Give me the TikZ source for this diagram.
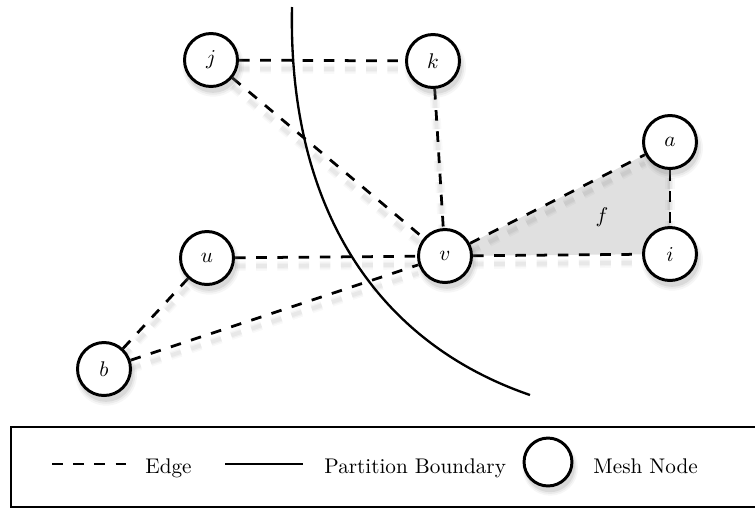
\documentclass[tikz,border=0pt]{standalone}
\usetikzlibrary{shadows,backgrounds,calc}
\definecolor{facefill}{RGB}{224,224,224}
\begin{document}
\begin{tikzpicture}[x=0.4717pt, y=-0.4717pt,
  softshadow/.style={
    drop shadow={shadow xshift=0.9pt, shadow yshift=-2.4pt, shadow scale=1.16, opacity=0.07},
    drop shadow={shadow xshift=0.9pt, shadow yshift=-2.4pt, shadow scale=1.10, opacity=0.10},
    drop shadow={shadow xshift=0.9pt, shadow yshift=-2.4pt, shadow scale=1.04, opacity=0.16}},
  meshnode/.style={circle, draw, line width=1.4pt, fill=white,
    minimum size=25pt, inner sep=0pt, softshadow},
  edge/.style={line width=1.3pt, dash pattern=on 5pt off 5pt},
  edgeshade/.style={draw=black, dash pattern=on 5pt off 5pt},
  boundary/.style={line width=1.1pt},
  legtext/.style={anchor=base west, inner sep=0pt}
]
\useasboundingbox (0,0) rectangle (755,509);

% mesh nodes
\node[meshnode] (j) at (211,60)  {$j$};
\node[meshnode] (k) at (433,61)  {$k$};
\node[meshnode] (a) at (670,142) {$a$};
\node[meshnode] (u) at (207,258) {$u$};
\node[meshnode] (v) at (445,256) {$v$};
\node[meshnode] (i) at (670,254) {$i$};
\node[meshnode] (b) at (104,369) {$b$};

\begin{scope}[on background layer]
  % shaded face v-a-i
  \fill[facefill] (v.center) -- (a.center) -- (i.center) -- cycle;
  % soft shadows under the edges
  \foreach \w/\o in {4.5/0.025, 3/0.03, 1.8/0.035} {
    \foreach \p/\q in {j/k, j/v, k/v, u/v, b/u, b/v, v/a, a/i, v/i} {
      \draw[edgeshade, line width=\w pt, draw opacity=\o]
        ($(\p)!13.2pt!(\q)+(0pt,-4pt)$) -- ($(\q)!13.2pt!(\p)+(0pt,-4pt)$);
    }
  }
  % edges
  \foreach \p/\q in {j/k, j/v, k/v, u/v, b/u, b/v, v/a, a/i, v/i} {
    \draw[edge] (\p) -- (\q);
  }
  % partition boundary
  \draw[boundary] (292,7) .. controls (288,200) and (370,340) .. (530,395);
\end{scope}

\node (flabel) at (602,217) {$f$};

% legend
\draw[line width=1.3pt] (11,427) rectangle (765,507);
\coordinate (le1) at (52,464);
\coordinate (le2) at (128,464);
\draw[edge] (le1) -- (le2);
\node[legtext] (legedge) at (145,473) {Edge};
\coordinate (lb1) at (225,464);
\coordinate (lb2) at (303,464);
\draw[boundary] (lb1) -- (lb2);
\node[legtext] (legbound) at (324,473) {Partition Boundary};
\node[meshnode, minimum size=22.6pt] (legnode) at (548,462) {};
\node[legtext] (legmesh) at (593,473) {Mesh Node};
\end{tikzpicture}
\end{document}
